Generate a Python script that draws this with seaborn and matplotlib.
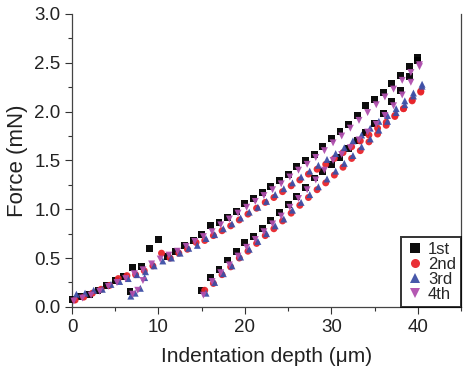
"""Force vs indentation depth, four repeated indentation runs."""

import numpy as np
import pandas as pd
import matplotlib
matplotlib.use("Agg")
import matplotlib.pyplot as plt
from matplotlib.ticker import MultipleLocator
import seaborn as sns


RUNS = ["1st", "2nd", "3rd", "4th"]

# depth sampling (um); each run is sampled with its own small phase shift
LOAD_DEPTH = [0, 1, 2, 3, 4, 5, 6, 7, 8, 9, 10, 11, 12, 13, 14, 15, 16, 17, 18, 19, 20,
              21, 22, 23, 24, 25, 26, 27, 28, 29, 30, 31, 32, 33, 34, 35, 36, 37, 38, 39, 40]
UNLOAD_DEPTH = [40, 39, 38, 37, 36, 35, 34, 33, 32, 31, 30, 29, 28, 27, 26, 25, 24, 23, 22,
                21, 20, 19, 18, 17, 16, 15]
DEPTH_SHIFT = {"1st": 0.0, "2nd": 0.35, "3rd": 0.5, "4th": 0.2}

# force (mN), loading branch
LOAD_1ST = [0.08, 0.11, 0.13, 0.17, 0.22, 0.27, 0.31, 0.40, 0.41, 0.60, 0.69, 0.52, 0.57, 0.63,
            0.68, 0.74, 0.83, 0.86, 0.92, 0.98, 1.06, 1.11, 1.17, 1.23, 1.29, 1.36, 1.44, 1.50,
            1.56, 1.64, 1.72, 1.80, 1.87, 1.96, 2.06, 2.12, 2.20, 2.29, 2.37, 2.46, 2.55]
LOAD_2ND = [0.07, 0.10, 0.14, 0.18, 0.22, 0.29, 0.32, 0.33, 0.37, 0.42, 0.55, 0.50, 0.55, 0.59,
            0.66, 0.68, 0.73, 0.78, 0.83, 0.89, 0.95, 1.01, 1.07, 1.12, 1.18, 1.24, 1.30, 1.36,
            1.41, 1.46, 1.52, 1.58, 1.64, 1.70, 1.76, 1.83, 1.89, 1.96, 2.03, 2.11, 2.20]
LOAD_3RD = [0.13, 0.14, 0.17, 0.18, 0.23, 0.26, 0.29, 0.33, 0.36, 0.42, 0.47, 0.50, 0.55, 0.60,
            0.63, 0.70, 0.74, 0.80, 0.85, 0.91, 0.97, 1.02, 1.08, 1.15, 1.21, 1.27, 1.33, 1.39,
            1.45, 1.51, 1.57, 1.63, 1.70, 1.76, 1.83, 1.90, 1.96, 2.03, 2.11, 2.19, 2.28]
LOAD_4TH = [0.06, 0.09, 0.12, 0.16, 0.21, 0.25, 0.29, 0.34, 0.38, 0.44, 0.49, 0.53, 0.57, 0.62,
            0.67, 0.72, 0.77, 0.84, 0.90, 0.96, 1.02, 1.08, 1.14, 1.20, 1.26, 1.33, 1.40, 1.46,
            1.53, 1.60, 1.68, 1.75, 1.83, 1.91, 1.99, 2.07, 2.15, 2.23, 2.32, 2.40, 2.48]

# force (mN), unloading branch
UNLOAD_1ST = [2.52, 2.36, 2.22, 2.10, 1.98, 1.88, 1.79, 1.70, 1.62, 1.53, 1.46, 1.39, 1.32,
              1.22, 1.13, 1.05, 0.97, 0.88, 0.80, 0.72, 0.66, 0.57, 0.48, 0.38, 0.30, 0.17]
UNLOAD_2ND = [2.21, 2.12, 2.03, 1.95, 1.86, 1.77, 1.69, 1.60, 1.52, 1.43, 1.35, 1.27, 1.20,
              1.12, 1.04, 0.96, 0.88, 0.80, 0.73, 0.65, 0.57, 0.50, 0.41, 0.33, 0.24, 0.17]
UNLOAD_3RD = [2.26, 2.16, 2.07, 1.99, 1.90, 1.81, 1.72, 1.64, 1.55, 1.47, 1.39, 1.31, 1.23,
              1.15, 1.07, 0.99, 0.90, 0.83, 0.75, 0.67, 0.59, 0.51, 0.42, 0.34, 0.25, 0.14]
UNLOAD_4TH = [2.46, 2.30, 2.17, 2.06, 1.96, 1.87, 1.79, 1.71, 1.63, 1.56, 1.50, 1.40, 1.30,
              1.20, 1.11, 1.02, 0.93, 0.85, 0.77, 0.69, 0.61, 0.52, 0.43, 0.35, 0.26, 0.12]

# short contact segment near 7 um
CONTACT_DEPTH = {"1st": [6.7], "3rd": [6.8, 7.3, 7.9, 8.4], "4th": [7.0, 7.6, 8.2]}
CONTACT_FORCE = {"1st": [0.16], "3rd": [0.11, 0.14, 0.19, 0.30], "4th": [0.13, 0.17, 0.27]}

COLORS = {"1st": "#000000", "2nd": "#e8252b", "3rd": "#3d4fa6", "4th": "#b04fae"}
MARKERS = {"1st": "s", "2nd": "o", "3rd": "^", "4th": "v"}


def build_frame():
    loads = {"1st": LOAD_1ST, "2nd": LOAD_2ND, "3rd": LOAD_3RD, "4th": LOAD_4TH}
    unloads = {"1st": UNLOAD_1ST, "2nd": UNLOAD_2ND, "3rd": UNLOAD_3RD, "4th": UNLOAD_4TH}
    rows = []
    for run in RUNS:
        s = DEPTH_SHIFT[run]
        for d, f in zip(LOAD_DEPTH, loads[run]):
            rows.append((run, d + s, f))
        for d, f in zip(UNLOAD_DEPTH, unloads[run]):
            rows.append((run, d + s, f))
        for d, f in zip(CONTACT_DEPTH.get(run, []), CONTACT_FORCE.get(run, [])):
            rows.append((run, d, f))
    return pd.DataFrame(rows, columns=["run", "depth", "force"])


df = build_frame()

sns.set_style("ticks")
plt.rcParams["font.family"] = ["Liberation Sans", "DejaVu Sans"]

fig = plt.figure(figsize=(4.68, 3.77), dpi=100)
ax = fig.add_axes([0.154, 0.186, 0.831, 0.777])

sns.scatterplot(data=df, x="depth", y="force", hue="run", style="run",
                hue_order=RUNS, style_order=RUNS, palette=COLORS, markers=MARKERS,
                s=25, linewidth=0, alpha=0.95, ax=ax, clip_on=False, zorder=3)

ax.set_xlim(0, 45)
ax.set_ylim(0, 3.0)
ax.xaxis.set_major_locator(MultipleLocator(10))
ax.xaxis.set_minor_locator(MultipleLocator(5))
ax.yaxis.set_major_locator(MultipleLocator(0.5))
ax.yaxis.set_minor_locator(MultipleLocator(0.25))
ax.yaxis.set_major_formatter(matplotlib.ticker.FormatStrFormatter("%.1f"))
ax.tick_params(which="major", direction="out", length=5, width=0.8, labelsize=13.5,
               colors="#333333", labelcolor="#222222")
ax.tick_params(which="minor", direction="out", length=3, width=0.8, colors="#333333")

for side in ["left", "bottom", "right"]:
    ax.spines[side].set_color("#444444")
    ax.spines[side].set_linewidth(0.9)
ax.spines["top"].set_visible(False)

ax.set_xlabel("Indentation depth (\u03bcm)", fontsize=15, color="#222222", labelpad=8)
ax.set_ylabel("Force (mN)", fontsize=16, color="#222222", labelpad=4)

leg = ax.legend(loc="lower right", frameon=True, fancybox=False, fontsize=12,
                handletextpad=0.3, borderpad=0.3, labelspacing=0.0,
                borderaxespad=0.0, markerscale=1.3, handlelength=1.0)
leg.get_frame().set_edgecolor("#000000")
leg.get_frame().set_linewidth(1.4)

fig.savefig("out.png", dpi=100)
